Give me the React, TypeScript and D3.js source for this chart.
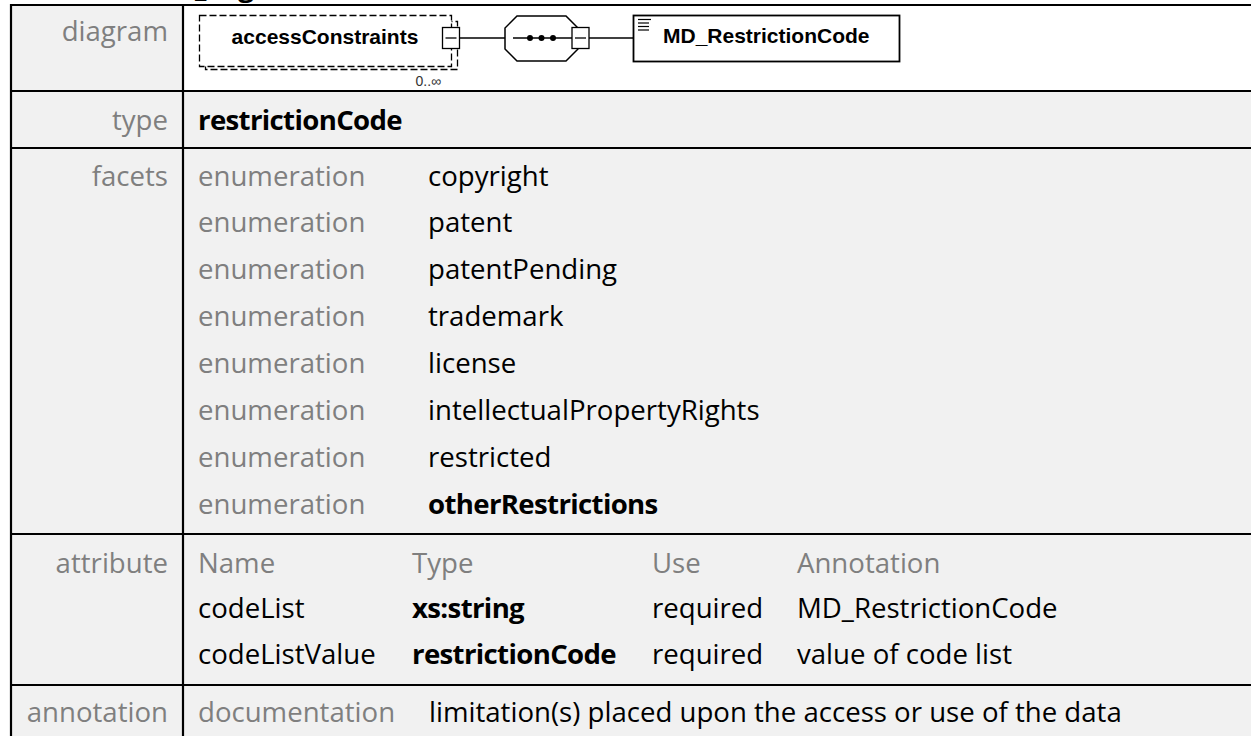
import React from 'react';
import * as d3 from 'd3';

const W = 1251, H = 736;
const FONT = "'Open Sans', 'Noto Sans', sans-serif";
const DIA_FONT = "'Liberation Sans', Arial, sans-serif";
const FS = 27.6;
const BOLD_LS = -0.65; // Open Sans Bold runs wider than the original's bold face
const GREY = '#7f7f7f';
const BG = '#f1f1f1';

// table content
const ROW_LABELS = ['diagram', 'type', 'facets', 'attribute', 'annotation'];
const TYPE_NAME = 'restrictionCode';
const ENUM_VALUES = ['copyright', 'patent', 'patentPending', 'trademark', 'license',
  'intellectualPropertyRights', 'restricted', 'otherRestrictions'];
const ENUM_BOLD = ['otherRestrictions'];
const ATTR_HEADERS = ['Name', 'Type', 'Use', 'Annotation'];
const ATTR_NAMES = ['codeList', 'codeListValue'];
const ATTR_TYPES = ['xs:string', 'restrictionCode'];
const ATTR_USE = ['required', 'required'];
const ATTR_ANNOT = ['MD_RestrictionCode', 'value of code list'];
const DOC_LABEL = 'documentation';
const DOC_TEXT = 'limitation(s) placed upon the access or use of the data';

// diagram content
const ELEMENT_NAME = 'accessConstraints';
const ELEMENT_OCCURS = '0..\u221e';
const SEQ_DOTS = [0, 1, 2];
const TYPE_BOX_NAME = 'MD_RestrictionCode';
const ENUM_ICON_LINES = [0, 1, 2, 3];

// layout
const LEFT = 11, DIV = 183;
const LABEL_X = 168, COL2 = 198, VAL_X = 428;
const ROW_LINES = [5, 91, 148, 534, 685];
const LABEL_BASE = [40.5, 129.5, 185.5, 572.5, 721.5];

export default function App() {
  const enumY = d3.scaleLinear().domain([0, ENUM_VALUES.length - 1]).range([185.5, 513.5]);
  const attrY = d3.scaleLinear().domain([0, ATTR_NAMES.length]).range([572.5, 663.5]);
  const attrX = d3.scaleOrdinal<string, number>().domain(ATTR_HEADERS).range([COL2, 412, 652, 797]);
  const dotX = d3.scaleLinear().domain([0, 2]).range([530, 553]);
  const iconY = d3.scaleLinear().domain([0, 3]).range([19.5, 30]);

  const cy = 38; // diagram centre line
  const oct = { x0: 505, x1: 578, y0: 16, y1: 61, c: 12 };
  const octPts = [
    [oct.x0 + oct.c, oct.y0], [oct.x1 - oct.c, oct.y0], [oct.x1, oct.y0 + oct.c], [oct.x1, oct.y1 - oct.c],
    [oct.x1 - oct.c, oct.y1], [oct.x0 + oct.c, oct.y1], [oct.x0, oct.y1 - oct.c], [oct.x0, oct.y0 + oct.c],
  ];
  const line = d3.line();

  const minusBox = (cx: number) => (
    <g>
      <rect x={cx - 8.5} y={cy - 10.5} width={17} height={21} fill="#fff" stroke="#000" strokeWidth={1.3} />
      <line x1={cx - 5.5} x2={cx + 5.5} y1={cy} y2={cy} stroke="#000" strokeWidth={1.3} />
    </g>
  );

  return (
    <svg width={W} height={H} style={{ position: 'absolute', left: 0, top: 0, background: '#fff' }}>
      {/* caption above the table, cut off by the page edge */}
      <text x={195} y={-3} textAnchor="end" fontFamily={FONT} fontWeight="bold" fontSize={FS}>element MD</text>
      <text x={195} y={-3} fontFamily={FONT} fontWeight="bold" fontSize={FS}>_LegalConstraints/accessConstraints</text>

      <rect x={LEFT} y={ROW_LINES[0]} width={W - LEFT} height={H - ROW_LINES[0]} fill={BG} />
      <rect x={DIV} y={ROW_LINES[0]} width={W - DIV} height={ROW_LINES[1] - ROW_LINES[0]} fill="#fff" />

      {ROW_LINES.map(y => (
        <line key={y} x1={LEFT - 1} x2={W} y1={y} y2={y} stroke="#000" strokeWidth={2.2} />
      ))}
      <line x1={LEFT} x2={LEFT} y1={ROW_LINES[0] - 1} y2={H} stroke="#000" strokeWidth={2.2} />
      <line x1={DIV} x2={DIV} y1={ROW_LINES[0] - 1} y2={H} stroke="#000" strokeWidth={2.2} />

      <g fontFamily={FONT} fontSize={FS}>
        {ROW_LABELS.map((l, i) => (
          <text key={l} x={LABEL_X} y={LABEL_BASE[i]} textAnchor="end" fill={GREY}>{l}</text>
        ))}

        <text x={COL2} y={LABEL_BASE[1]} fontWeight="bold" letterSpacing={BOLD_LS} fill="#000">{TYPE_NAME}</text>

        {ENUM_VALUES.map((v, i) => {
          const bold = ENUM_BOLD.includes(v);
          return (
            <g key={v}>
              <text x={COL2} y={enumY(i)} fill={GREY}>enumeration</text>
              <text x={VAL_X} y={enumY(i)} fill="#000" fontWeight={bold ? 'bold' : 'normal'}
                letterSpacing={bold ? BOLD_LS : 0}>{v}</text>
            </g>
          );
        })}

        {ATTR_HEADERS.map(h => (
          <text key={h} x={attrX(h)} y={attrY(0)} fill={GREY}>{h}</text>
        ))}
        {ATTR_NAMES.map((n, i) => (
          <g key={n} fill="#000">
            <text x={attrX('Name')} y={attrY(i + 1)}>{n}</text>
            <text x={attrX('Type')} y={attrY(i + 1)} fontWeight="bold" letterSpacing={BOLD_LS}>{ATTR_TYPES[i]}</text>
            <text x={attrX('Use')} y={attrY(i + 1)}>{ATTR_USE[i]}</text>
            <text x={attrX('Annotation')} y={attrY(i + 1)}>{ATTR_ANNOT[i]}</text>
          </g>
        ))}

        <text x={COL2} y={LABEL_BASE[4]} fill={GREY}>{DOC_LABEL}</text>
        <text x={VAL_X + 1} y={LABEL_BASE[4]} fill="#000">{DOC_TEXT}</text>
      </g>

      {/* diagram */}
      <g fontFamily={DIA_FONT}>
        <line x1={460} x2={oct.x0} y1={cy} y2={cy} stroke="#000" strokeWidth={1.3} />
        <line x1={589} x2={633} y1={cy} y2={cy} stroke="#000" strokeWidth={1.3} />

        <rect x={205.5} y={21.5} width={252} height={48} fill="#fff" stroke="#000" strokeWidth={1.3} strokeDasharray="7,3" />
        <rect x={199.5} y={15.5} width={252} height={51} fill="#fff" stroke="#000" strokeWidth={1.3} strokeDasharray="7,3" />
        <text x={325} y={43.5} textAnchor="middle" fontWeight="bold" fontSize={21}>{ELEMENT_NAME}</text>
        <text x={441} y={86} textAnchor="end" fontSize={14} fill="#333">{ELEMENT_OCCURS}</text>
        {minusBox(451)}

        <path d={line(octPts as [number, number][]) + 'Z'} fill="#fff" stroke="#000" strokeWidth={1.5} />
        <line x1={513} x2={575} y1={cy} y2={cy} stroke="#000" strokeWidth={1.3} />
        {SEQ_DOTS.map(d => (
          <circle key={d} cx={dotX(d)} cy={cy} r={3} fill="#000" />
        ))}
        {minusBox(580.5)}

        <rect x={633.5} y={15.5} width={266} height={46} fill="#fff" stroke="#000" strokeWidth={1.8} />
        {ENUM_ICON_LINES.map(i => (
          <line key={i} x1={638} x2={i === 0 ? 651 : 649} y1={iconY(i)} y2={iconY(i)} stroke="#000" strokeWidth={1.2} />
        ))}
        <text x={663} y={42.5} fontWeight="bold" fontSize={21}>{TYPE_BOX_NAME}</text>
      </g>
    </svg>
  );
}
